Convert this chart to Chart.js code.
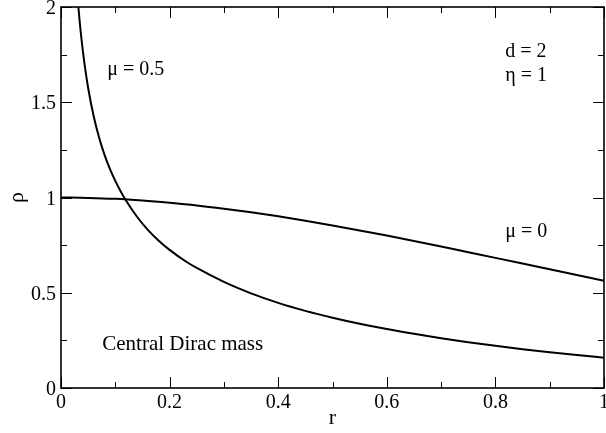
<!DOCTYPE html>
<html>
<head>
<meta charset="utf-8">
<script src="https://cdn.jsdelivr.net/npm/chart.js@4/dist/chart.umd.min.js"></script>
<style>
html,body{margin:0;padding:0;background:#fff;}
#wrap{width:606px;height:433px;}
</style>
</head>
<body>
<div id="wrap"><canvas id="c" width="606" height="433"></canvas></div>
<script>
// ---- data ----
const rMu0   = [0, 0.05, 0.1, 0.15, 0.2, 0.25, 0.3, 0.35, 0.4, 0.45, 0.5, 0.55, 0.6, 0.65, 0.7, 0.75, 0.8, 0.85, 0.9, 0.95, 1.0];
const rhoMu0 = [1.0, 0.998, 0.993, 0.984, 0.972, 0.958, 0.941, 0.922, 0.901, 0.878, 0.853, 0.827, 0.800, 0.772, 0.743, 0.713, 0.683, 0.653, 0.623, 0.593, 0.563];
const rMu05   = [0.028, 0.032, 0.036, 0.04, 0.045, 0.05, 0.06, 0.07, 0.08, 0.09, 0.10, 0.11, 0.12, 0.14, 0.16, 0.18, 0.20, 0.23, 0.25, 0.30, 0.35, 0.40, 0.45, 0.50, 0.55, 0.60, 0.65, 0.70, 0.75, 0.80, 0.85, 0.90, 0.95, 1.0];
const rhoMu05 = [2.148, 2.0, 1.878, 1.775, 1.667, 1.575, 1.429, 1.316, 1.225, 1.150, 1.087, 1.032, 0.983, 0.899, 0.830, 0.773, 0.725, 0.664, 0.630, 0.557, 0.497, 0.447, 0.405, 0.369, 0.3375, 0.3095, 0.2845, 0.2615, 0.2405, 0.2215, 0.204, 0.188, 0.173, 0.159];

const xMajorTicks = [0, 0.2, 0.4, 0.6, 0.8, 1];
const xTickLabels = ['0', '0.2', '0.4', '0.6', '0.8', '1'];
const xMinorTicks = [0.1, 0.3, 0.5, 0.7, 0.9];
const yMajorTicks = [0, 0.5, 1, 1.5, 2];
const yTickLabels = ['0', '0.5', '1', '1.5', '2'];
const yMinorTicks = [0.25, 0.75, 1.25, 1.75];

const xTitle = 'r';
const yTitle = 'ρ';
const notes = [
  {text: 'μ = 0.5', r: 0.085, rho: 1.645, size: 20},
  {text: 'd = 2', r: 0.818, rho: 1.74, size: 20},
  {text: 'η = 1', r: 0.818, rho: 1.61, size: 20},
  {text: 'μ = 0', r: 0.818, rho: 0.795, size: 20},
  {text: 'Central Dirac mass', r: 0.076, rho: 0.199, size: 21}
];

const toPts = (xs, ys) => xs.map((v, i) => ({x: v, y: ys[i]}));
const FONT = '"Liberation Serif", "DejaVu Serif", serif';

const framePlugin = {
  id: 'framePlugin',
  afterDatasetsDraw(chart) {
    const {ctx, chartArea: a, scales: {x, y}} = chart;
    ctx.save();
    ctx.strokeStyle = '#000';
    ctx.lineWidth = 1;
    const seg = (x1, y1, x2, y2) => { ctx.beginPath(); ctx.moveTo(x1, y1); ctx.lineTo(x2, y2); ctx.stroke(); };
    const major = 11, minor = 6;
    xMajorTicks.forEach(v => { const p = Math.round(x.getPixelForValue(v)) + 0.5; seg(p, a.bottom, p, a.bottom - major); seg(p, a.top, p, a.top + major); });
    xMinorTicks.forEach(v => { const p = Math.round(x.getPixelForValue(v)) + 0.5; seg(p, a.bottom, p, a.bottom - minor); seg(p, a.top, p, a.top + minor); });
    yMajorTicks.forEach(v => { const p = Math.round(y.getPixelForValue(v)) + 0.5; seg(a.left, p, a.left + major, p); seg(a.right, p, a.right - major, p); });
    yMinorTicks.forEach(v => { const p = Math.round(y.getPixelForValue(v)) + 0.5; seg(a.left, p, a.left + minor, p); seg(a.right, p, a.right - minor, p); });
    ctx.lineWidth = 1.6;
    ctx.strokeRect(a.left, a.top, a.right - a.left, a.bottom - a.top);

    ctx.fillStyle = '#000';
    ctx.font = '20px ' + FONT;
    ctx.textBaseline = 'alphabetic';
    ctx.textAlign = 'center';
    xMajorTicks.forEach((v, i) => ctx.fillText(xTickLabels[i], x.getPixelForValue(v), a.bottom + 20));
    ctx.textAlign = 'right';
    yMajorTicks.forEach((v, i) => ctx.fillText(yTickLabels[i], a.left - 5, y.getPixelForValue(v) + 7));

    ctx.font = '22px ' + FONT;
    ctx.textAlign = 'center';
    ctx.fillText(xTitle, (a.left + a.right) / 2, a.bottom + 36);
    ctx.save();
    ctx.translate(23, (a.top + a.bottom) / 2);
    ctx.rotate(-Math.PI / 2);
    ctx.fillText(yTitle, 0, 0);
    ctx.restore();

    ctx.textAlign = 'left';
    notes.forEach(n => { ctx.font = n.size + 'px ' + FONT; ctx.fillText(n.text, x.getPixelForValue(n.r), y.getPixelForValue(n.rho)); });
    ctx.restore();
  }
};

new Chart(document.getElementById('c'), {
  type: 'line',
  data: {
    datasets: [
      {label: 'μ = 0', data: toPts(rMu0, rhoMu0), borderColor: '#000', borderWidth: 2, pointRadius: 0, fill: false, cubicInterpolationMode: 'monotone'},
      {label: 'μ = 0.5', data: toPts(rMu05, rhoMu05), borderColor: '#000', borderWidth: 2, pointRadius: 0, fill: false, cubicInterpolationMode: 'monotone'}
    ]
  },
  options: {
    responsive: false,
    animation: false,
    events: [],
    layout: {padding: {left: 61, right: 2, top: 7, bottom: 45}},
    plugins: {legend: {display: false}, tooltip: {enabled: false}},
    scales: {
      x: {type: 'linear', min: 0, max: 1, display: false},
      y: {type: 'linear', min: 0, max: 2, display: false}
    }
  },
  plugins: [framePlugin]
});
</script>
</body>
</html>
